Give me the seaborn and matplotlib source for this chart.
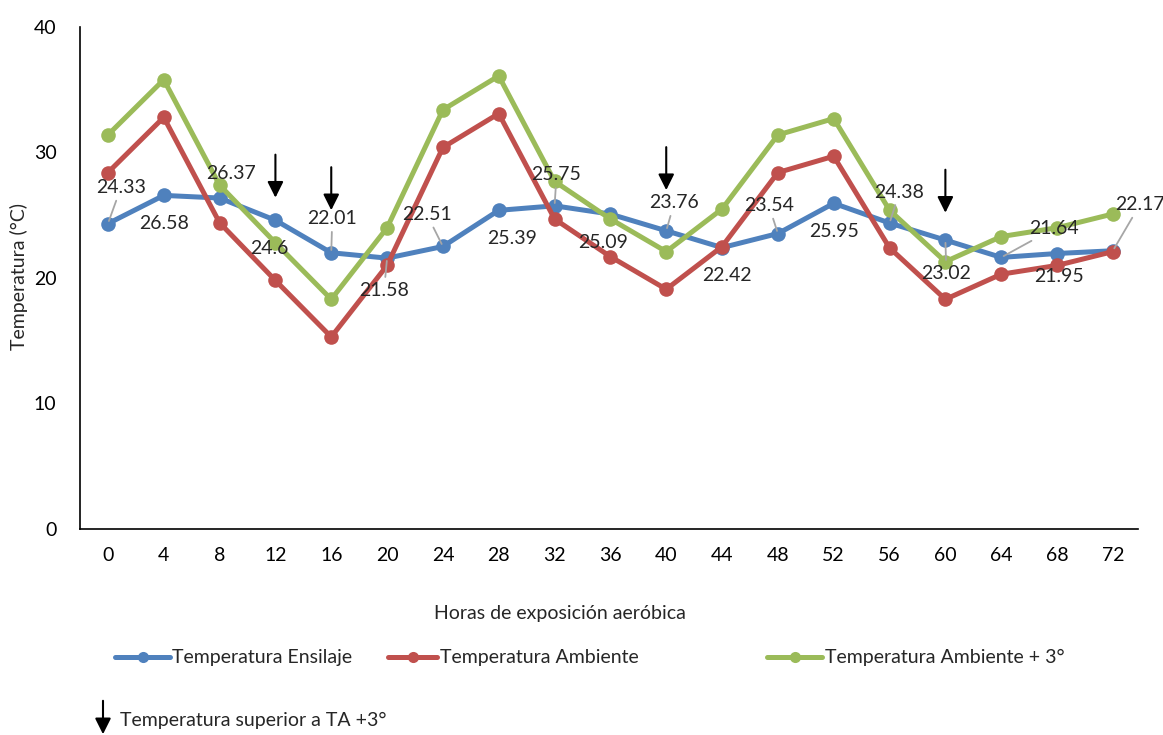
import numpy as np
import pandas as pd
import matplotlib
matplotlib.use("Agg")
import matplotlib.pyplot as plt
from matplotlib.lines import Line2D
from matplotlib.patches import FancyArrowPatch
import seaborn as sns

# datos
horas = [0, 4, 8, 12, 16, 20, 24, 28, 32, 36, 40, 44, 48, 52, 56, 60, 64, 68, 72]
t_ensilaje = [24.33, 26.58, 26.37, 24.6, 22.01, 21.58, 22.51, 25.39, 25.75, 25.09,
              23.76, 22.42, 23.54, 25.95, 24.38, 23.02, 21.64, 21.95, 22.17]
t_ambiente = [28.4, 32.8, 24.4, 19.8, 15.3, 21.0, 30.4, 33.1, 24.7, 21.7,
              19.1, 22.5, 28.4, 29.7, 22.4, 18.3, 20.3, 21.0, 22.1]
t_ambiente3 = [31.4, 35.8, 27.4, 22.8, 18.3, 24.0, 33.4, 36.1, 27.7, 24.7,
               22.1, 25.5, 31.4, 32.7, 25.4, 21.3, 23.3, 24.0, 25.1]
horas_flecha = [12, 16, 40, 60]

series = ["Temperatura Ensilaje", "Temperatura Ambiente", "Temperatura Ambiente + 3°"]
colores = ["#4F81BD", "#C0504D", "#9BBB59"]

df = pd.DataFrame({
    "hora": horas * 3,
    "temp": t_ensilaje + t_ambiente + t_ambiente3,
    "serie": [series[0]] * len(horas) + [series[1]] * len(horas) + [series[2]] * len(horas),
})

sns.set_style("white")
plt.rcParams["font.family"] = ["Lato", "DejaVu Sans"]
plt.rcParams["font.size"] = 14
FS = 14

fig = plt.figure(figsize=(11.63, 7.35), dpi=100)
ax = fig.add_axes([0.0688, 0.2803, 0.9097, 0.683])

sns.lineplot(data=df, x="hora", y="temp", hue="serie", hue_order=series,
             palette=colores, marker="o", markersize=10.5, markeredgewidth=0,
             linewidth=3.6, legend=False, ax=ax)

ax.set_xlim(-2, 73.8)
ax.set_ylim(0, 40)
ax.set_xticks(horas)
ax.set_yticks([0, 10, 20, 30, 40])
ax.tick_params(axis="both", length=0, labelsize=FS, colors="black")
ax.tick_params(axis="x", pad=13)
ax.tick_params(axis="y", pad=17)
for s in ["top", "right"]:
    ax.spines[s].set_visible(False)
for s in ["left", "bottom"]:
    ax.spines[s].set_color("black")
    ax.spines[s].set_linewidth(1.2)
ax.set_xlabel("Horas de exposición aeróbica", fontsize=FS)
ax.set_ylabel("Temperatura (°C)", fontsize=FS)
ax.xaxis.set_label_coords(0.4537, -0.151)
ax.yaxis.set_label_coords(-0.049, 0.502)

# etiquetas de datos (desplazamiento en pixeles) y lineas guia
offs = [(13, 36), (0, -28), (11, 25), (-6, -28), (1, 34), (-3, -32), (-16, 32),
        (13, -28), (2, 31), (-7, -28), (8, 28), (5, -28), (-9, 28), (0, -28),
        (10, 31), (1, -33), (53, 29), (2, -23), (27, 46)]
guia = [True, False, False, False, True, True, True, False, True, False, True,
        False, True, False, True, True, True, False, True]
for h, v, o, g in zip(horas, t_ensilaje, offs, guia):
    props = dict(arrowstyle="-", color="#A6A6A6", lw=1.3, shrinkA=1, shrinkB=2) if g else None
    ax.annotate(f"{v:g}", xy=(h, v), xytext=o, textcoords="offset pixels",
                ha="center", va="center", fontsize=FS, arrowprops=props, zorder=5)

# flechas (punta en unidades del eje)
punta = [26.4, 25.4, 27.0, 25.2]
for h, p in zip(horas_flecha, punta):
    ax.annotate("", xy=(h, p), xytext=(0, 43), textcoords="offset pixels",
                arrowprops=dict(arrowstyle="-|>", color="black", lw=1.5,
                                mutation_scale=24, shrinkA=0, shrinkB=0))

# leyenda
ly = 1 - 657 / 735
for (x0, x1, xt), nombre, c in zip([(115, 170, 172), (388, 437, 440), (767, 822, 825)], series, colores):
    fig.add_artist(Line2D([x0 / 1163, x1 / 1163], [ly, ly], color=c, lw=3.6,
                          solid_capstyle="round"))
    fig.add_artist(Line2D([(x0 + x1) / 2 / 1163], [ly], color=c, marker="o",
                          markersize=8, markeredgewidth=0))
    fig.text(xt / 1163, ly, nombre, ha="left", va="center", fontsize=FS)

fig.text(120 / 1163, 1 - 720 / 735, "Temperatura superior a TA +3°", ha="left",
         va="center", fontsize=FS)
fig.add_artist(FancyArrowPatch(
    (103 / 1163, 1 - 698 / 735), (103 / 1163, 1 - 737 / 735),
    transform=fig.transFigure, arrowstyle="-|>", mutation_scale=24,
    color="black", lw=1.5))

fig.savefig("out.png", dpi=100)
